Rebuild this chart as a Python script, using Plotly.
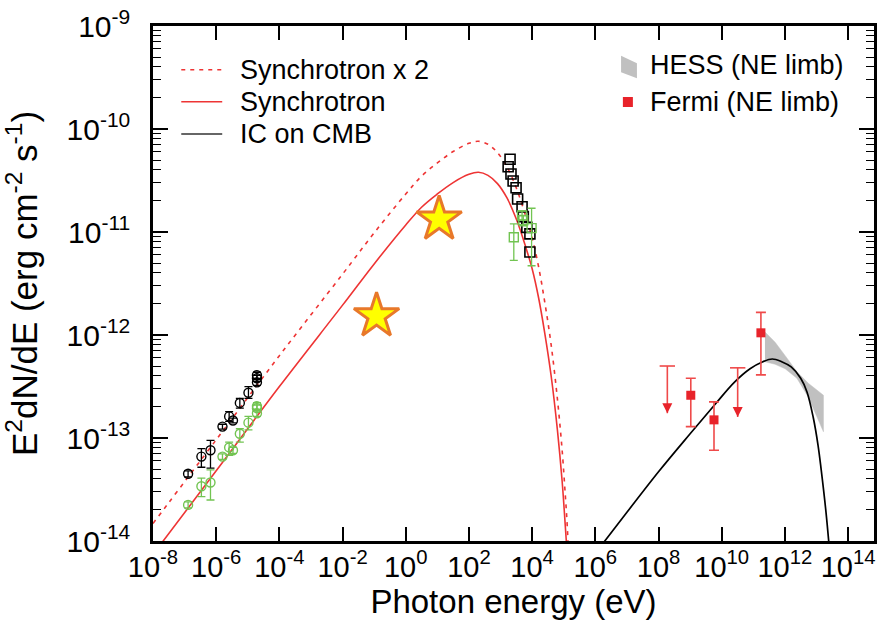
import math
import plotly.graph_objects as go

# ---------------- data ----------------
# Synchrotron model (E in eV, E^2 dN/dE in erg cm^-2 s^-1)
sync_e = [1e-8, 1e-6, 1e-4, 1e-2, 0.1, 1, 3.16, 10, 31.6, 100, 200, 400, 800, 1600,
          3200, 6300, 1e4, 1.6e4, 2.5e4, 4.0e4, 6.3e4, 8.9e4, 1.12e5, 1.26e5, 1.41e5]
sync_f = [7.4e-15, 4.8e-14, 3.16e-13, 1.95e-12, 4.9e-12, 1.17e-11, 1.74e-11, 2.34e-11,
          3.02e-11, 3.63e-11, 3.80e-11, 3.55e-11, 2.95e-11, 2.14e-11, 1.32e-11, 7.1e-12,
          4.4e-12, 2.3e-12, 1.05e-12, 4.0e-13, 1.2e-13, 3.8e-14, 1.4e-14, 8e-15, 4e-15]
sync2_f = [1.48e-14, 9.6e-14, 6.3e-13, 3.9e-12, 9.8e-12, 2.34e-11, 3.48e-11, 4.68e-11,
           6.04e-11, 7.26e-11, 7.6e-11, 7.1e-11, 5.9e-11, 4.28e-11, 2.64e-11, 1.42e-11,
           8.8e-12, 4.6e-12, 2.1e-12, 8.0e-13, 2.4e-13, 7.6e-14, 2.8e-14, 1.6e-14, 8e-15]

# Inverse Compton on CMB model
ic_e = [1e6, 1e7, 1e8, 1e9, 6.3e9, 2.5e10, 7.9e10, 2.0e11, 4.0e11, 7.9e11, 1.58e12,
        3.16e12, 5.0e12, 7.9e12, 1.12e13, 1.41e13, 2.0e13, 2.63e13]
ic_f = [7.6e-15, 1.9e-14, 4.7e-14, 1.1e-13, 2.14e-13, 3.47e-13, 4.7e-13, 5.5e-13,
        5.85e-13, 5.5e-13, 4.9e-13, 3.8e-13, 2.8e-13, 1.58e-13, 8.5e-14, 4.9e-14,
        1.9e-14, 7.6e-15]

# HESS (NE limb) butterfly band
hess_e = [2.34e11, 4.9e11, 1.02e12, 2.4e12, 5.5e12, 1.66e13]
hess_hi = [1.07e-12, 8.5e-13, 6.3e-13, 4.4e-13, 3.4e-13, 2.6e-13]
hess_lo = [5.5e-13, 5.2e-13, 4.7e-13, 3.8e-13, 2.5e-13, 1.15e-13]

# Fermi (NE limb) points and upper limits
fermi_e = [1.05e9, 5.7e9, 1.74e11]
fermi_f = [2.6e-13, 1.5e-13, 1.05e-12]
fermi_hi = [3.8e-13, 2.24e-13, 1.66e-12]
fermi_lo = [1.29e-13, 7.6e-14, 4.1e-13]
ul_e = [1.9e8, 3.2e10]
ul_top = [5.0e-13, 4.8e-13]
ul_tip = [1.74e-13, 1.6e-13]

# Radio data (black and green circles)
radio_e = [1.29e-7, 3.4e-7, 6.6e-7, 1.58e-6, 2.57e-6, 3.4e-6, 5.6e-6, 1.05e-5,
           1.95e-5, 1.95e-5, 1.95e-5]
radio_black = [4.5e-14, 6.6e-14, 7.6e-14, 1.29e-13, 1.62e-13, 1.48e-13, 2.19e-13,
               2.75e-13, 3.47e-13, 3.8e-13, 4.07e-13]
radio_black_hi = [4.8e-14, 7.9e-14, 9.5e-14, 1.36e-13, 1.8e-13, 1.56e-13, 2.43e-13,
                  3.16e-13, 3.7e-13, 4.05e-13, 4.35e-13]
radio_black_lo = [4.2e-14, 5.2e-14, 5.1e-14, 1.22e-13, 1.45e-13, 1.40e-13, 1.95e-13,
                  2.43e-13, 3.25e-13, 3.55e-13, 3.8e-13]
radio_green = [2.24e-14, 3.4e-14, 3.7e-14, 6.6e-14, 8.1e-14, 7.6e-14, 1.1e-13,
               1.41e-13, 1.74e-13, 1.95e-13, 2.04e-13]
radio_green_hi = [2.4e-14, 4.07e-14, 4.9e-14, 7.0e-14, 9.1e-14, 8.1e-14, 1.23e-13,
                  1.62e-13, 1.86e-13, 2.09e-13, 2.2e-13]
radio_green_lo = [2.1e-14, 2.7e-14, 2.5e-14, 6.2e-14, 6.8e-14, 7.1e-14, 9.1e-14,
                  1.2e-13, 1.62e-13, 1.82e-13, 1.9e-13]

# X-ray data
xray_e = [2.0e3, 1.74e3, 2.14e3, 2.5e3, 3.1e3, 3.47e3, 4.8e3, 5.25e3, 6.8e3, 8.5e3, 8.5e3]
xray_black = [5.08e-11, 4.3e-11, 3.66e-11, 3.13e-11, 2.69e-11, 2.09e-11, 1.76e-11,
              1.41e-11, 1.11e-11, 9.6e-12, 6.4e-12]
xg_e = [2.63e3, 4.8e3, 5.25e3, 9.6e3]
xg_f = [8.9e-12, 1.45e-11, 1.3e-11, 1.09e-11]
xg_hi = [1.2e-11, 1.6e-11, 1.45e-11, 1.7e-11]
xg_lo = [5.3e-12, 1.3e-11, 1.15e-11, 4.7e-12]

# Stars
star_e = [0.119, 11.4]
star_f = [1.53e-12, 1.33e-11]

# Axis ticks
x_tick_exp = [-8, -6, -4, -2, 0, 2, 4, 6, 8, 10, 12, 14]
y_tick_exp = [-14, -13, -12, -11, -10, -9]

legend_left = ["Synchrotron x 2", "Synchrotron", "IC on CMB"]
legend_right = ["HESS (NE limb)", "Fermi (NE limb)"]

# ---------------- styling ----------------
FONT = "Liberation Sans, Arial, Helvetica, sans-serif"
RED = "#ee3434"
GREEN = "#72c452"
GREY = "#c0c0c0"


def err(v, hi, lo):
    return dict(type="data", symmetric=False,
                array=[h - a for h, a in zip(hi, v)],
                arrayminus=[a - l for a, l in zip(v, lo)])


fig = go.Figure()

# HESS band
fig.add_trace(go.Scatter(
    x=hess_e + hess_e[::-1], y=hess_hi + hess_lo[::-1],
    fill="toself", fillcolor=GREY, mode="lines",
    line=dict(color=GREY, width=0.5), showlegend=False, hoverinfo="skip"))

# Models
fig.add_trace(go.Scatter(x=sync_e, y=sync2_f, mode="lines", line_shape="spline",
                         line=dict(color=RED, width=1.6, dash="4px,5px"), showlegend=False))
fig.add_trace(go.Scatter(x=sync_e, y=sync_f, mode="lines", line_shape="spline",
                         line=dict(color=RED, width=1.6), showlegend=False))
fig.add_trace(go.Scatter(x=ic_e, y=ic_f, mode="lines", line_shape="spline",
                         line=dict(color="black", width=1.7), showlegend=False))

# Radio
fig.add_trace(go.Scatter(
    x=radio_e, y=radio_black, mode="markers",
    marker=dict(symbol="circle-open", size=9, color="black", line=dict(width=1.4)),
    error_y=dict(err(radio_black, radio_black_hi, radio_black_lo), color="black",
                 thickness=1.3, width=4), showlegend=False))
fig.add_trace(go.Scatter(
    x=radio_e, y=radio_green, mode="markers",
    marker=dict(symbol="circle-open", size=9, color=GREEN, line=dict(width=1.4)),
    error_y=dict(err(radio_green, radio_green_hi, radio_green_lo), color=GREEN,
                 thickness=1.3, width=4), showlegend=False))

# X-ray
fig.add_trace(go.Scatter(
    x=xray_e, y=xray_black, mode="markers",
    marker=dict(symbol="square-open", size=10, color="black", line=dict(width=1.6)),
    showlegend=False))
fig.add_trace(go.Scatter(
    x=xg_e, y=xg_f, mode="markers",
    marker=dict(symbol="square-open", size=9, color=GREEN, line=dict(width=1.4)),
    error_y=dict(err(xg_f, xg_hi, xg_lo), color=GREEN, thickness=1.3, width=4),
    showlegend=False))

# Stars
fig.add_trace(go.Scatter(
    x=star_e, y=star_f, mode="markers",
    marker=dict(symbol="star", size=34, color="#ffff00",
                line=dict(color="#e8782a", width=3)),
    showlegend=False))

# Fermi
fig.add_trace(go.Scatter(
    x=fermi_e, y=fermi_f, mode="markers",
    marker=dict(symbol="square", size=9, color="#e8232a"),
    error_y=dict(err(fermi_f, fermi_hi, fermi_lo), color="#ef4a4a",
                 thickness=1.6, width=5), showlegend=False))
# Upper limits: stem, cap, arrow head
ul_x, ul_y = [], []
for e, t, b in zip(ul_e, ul_top, ul_tip):
    ul_x += [e, e, None]
    ul_y += [t, b, None]
fig.add_trace(go.Scatter(x=ul_x, y=ul_y, mode="lines",
                         line=dict(color="#ef4a4a", width=1.6), showlegend=False))
fig.add_trace(go.Scatter(x=ul_e, y=ul_top, mode="markers",
                         marker=dict(symbol="line-ew", size=11,
                                     line=dict(color="#ef4a4a", width=1.6)),
                         showlegend=False))
fig.add_trace(go.Scatter(x=ul_e, y=ul_tip, mode="markers",
                         marker=dict(symbol="arrow-down", size=10, color="#e8232a",
                                     line=dict(width=0)),
                         showlegend=False))

# ---------------- legends (drawn in paper coordinates) ----------------
shapes = []
annotations = []
left_rows_y = [0.9150, 0.8530, 0.7903]
left_styles = [dict(color=RED, width=1.6, dash="4px,5px"),
               dict(color=RED, width=1.6),
               dict(color="#333333", width=1.7)]
for name, yy, st in zip(legend_left, left_rows_y, left_styles):
    shapes.append(dict(type="line", xref="paper", yref="paper",
                       x0=0.0392, x1=0.0960, y0=yy, y1=yy, line=st))
    annotations.append(dict(xref="paper", yref="paper", x=0.118, y=yy,
                            xanchor="left", yanchor="middle", showarrow=False,
                            text=name, font=dict(family=FONT, size=27, color="black")))

right_rows_y = [0.9240, 0.8524]
shapes.append(dict(type="path", xref="paper", yref="paper",
                   path="M 0.6492,0.9420 L 0.6712,0.9275 L 0.6712,0.8987 L 0.6492,0.9102 Z",
                   fillcolor=GREY, line=dict(width=0)))
shapes.append(dict(type="rect", xref="paper", yref="paper",
                   x0=0.6517, x1=0.6656, y0=0.8427, y1=0.8621,
                   fillcolor="#e8232a", line=dict(width=0)))
for name, yy in zip(legend_right, right_rows_y):
    annotations.append(dict(xref="paper", yref="paper", x=0.6866, y=yy,
                            xanchor="left", yanchor="middle", showarrow=False,
                            text=name, font=dict(family=FONT, size=27, color="black")))

y_minor = [m * 10.0 ** e for e in y_tick_exp[:-1] for m in range(2, 10)]

fig.update_layout(
    width=881, height=622,
    margin=dict(l=153, r=7, t=26, b=81, pad=0, autoexpand=False),
    plot_bgcolor="white", paper_bgcolor="white",
    font=dict(family=FONT, color="black"),
    shapes=shapes, annotations=annotations,
    showlegend=False,
    xaxis=dict(
        type="log", range=[-8, 14.82], automargin=False,
        tickmode="array",
        tickvals=[10.0 ** e for e in x_tick_exp],
        ticktext=["10<sup>%d</sup>" % e for e in x_tick_exp],
        ticks="inside", ticklen=14, tickwidth=1.5, tickcolor="black",
        showline=True, linewidth=2.5, linecolor="black", mirror="allticks",
        showgrid=False, zeroline=False,
        tickfont=dict(family=FONT, size=29, color="black"),
        ticklabelstandoff=-2,
        title=dict(text="Photon energy (eV)", font=dict(family=FONT, size=33, color="black"),
                   standoff=4),
    ),
    yaxis=dict(
        type="log", range=[-14, -9], automargin=False,
        tickmode="array",
        tickvals=[10.0 ** e for e in y_tick_exp],
        ticktext=["10<sup>%d</sup>" % e for e in y_tick_exp],
        ticks="inside", ticklen=15, tickwidth=1.5, tickcolor="black",
        minor=dict(tickvals=y_minor, ticks="inside", ticklen=8, tickwidth=1.3,
                   tickcolor="black", showgrid=False),
        showline=True, linewidth=2.5, linecolor="black", mirror="allticks",
        showgrid=False, zeroline=False,
        tickfont=dict(family=FONT, size=30, color="black"),
        ticklabelstandoff=14,
        title=dict(text="E<sup>2</sup>dN/dE (erg cm<sup>-2</sup> s<sup>-1</sup>)",
                   font=dict(family=FONT, size=35, color="black"), standoff=22),
    ),
)

fig.write_html("out.html", config={"displayModeBar": False})
